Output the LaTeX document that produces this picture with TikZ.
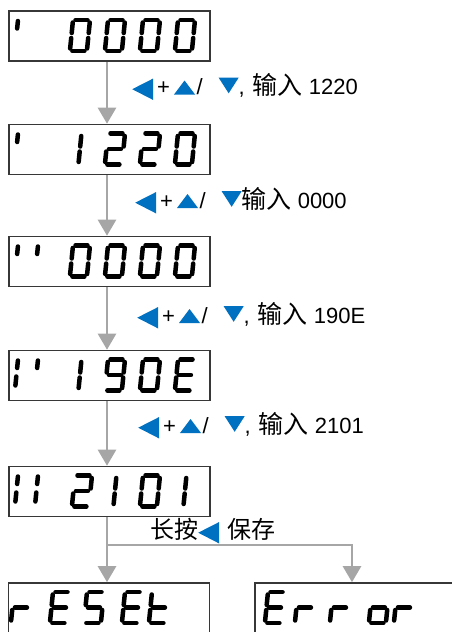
\documentclass[tikz,border=0pt]{standalone}
\usepackage{fontspec}
\setmainfont{Liberation Sans}
\newfontfamily\cjk{Noto Sans CJK SC}
\usetikzlibrary{arrows.meta}
\definecolor{tblue}{RGB}{0,112,192}
\definecolor{arrowgray}{RGB}{166,166,166}
\definecolor{boxc}{RGB}{55,55,55}
\newcommand\tril{\tikz[baseline=0pt,x=1pt,y=1pt]\fill[tblue](0,5.3)--(21,16)--(21,-5.5)--cycle;}
\newcommand\triu{\tikz[baseline=0pt,x=1pt,y=1pt]\fill[tblue](0,0)--(21,0)--(10.5,14)--cycle;}
\newcommand\trid{\tikz[baseline=0pt,x=1pt,y=1pt]\fill[tblue](0,16.8)--(20,16.8)--(10,1.2)--cycle;}
\newcommand\cj[1]{{\cjk\fontsize{25}{25}\selectfont #1}}
\newcommand\cjs[1]{{\cjk\fontsize{24}{24}\selectfont #1}}
\newcommand\segdraw[1]{%
\if#1a\draw[seg](2.5,0)--(14.5,0);\fi
\if#1b\draw[seg](17,2.5)--(17,13);\fi
\if#1c\draw[seg](17,18)--(17,28.5);\fi
\if#1d\draw[seg](2.5,31)--(14.5,31);\fi
\if#1e\draw[seg](0,18)--(0,28.5);\fi
\if#1f\draw[seg](0,2.5)--(0,13);\fi
\if#1g\draw[seg](2.5,15.5)--(14.5,15.5);\fi
\if#1p\draw[seg](8.5,2.5)--(8.5,13);\fi
\if#1q\draw[seg](8.5,18)--(8.5,28.5);\fi
\if#1u\draw[seg](0,1)--(0,8.5);\fi
\if#1l\draw[seg](0,17)--(0,26);\fi}
\newcommand\sevenseg[3]{\begin{scope}[shift={(#1,#2)},xslant=0.1]\foreach \s in {#3}{\segdraw{\s}}\end{scope}}
\begin{document}
\begin{tikzpicture}[x=1pt,y=-1pt,
 box/.style={draw=boxc,line width=1.6pt,minimum width=201pt,minimum height=50pt,inner sep=0pt},
 arr/.style={draw=arrowgray,line width=2.6pt,-{Triangle[width=18pt,length=16pt]}},
 lbl/.style={inner sep=0pt,anchor=base west,font=\fontsize{22}{22}\selectfont,text=black},
 seg/.style={line width=4.5pt,line cap=round,draw=black}]
\useasboundingbox (0,0) rectangle (452,632);
\clip (0,0) rectangle (452,632);
% boxes
\node[box] (b1) at (109.5,36) {};
\node[box] (b2) at (109.5,149.5) {};
\node[box] (b3) at (109.5,261.5) {};
\node[box] (b4) at (109.5,375.5) {};
\node[box] (b5) at (109.5,491.5) {};
\node[box,minimum height=60pt] (b6) at (109,613) {};
\node[box,minimum width=210pt,minimum height=60pt] (b7) at (360,613) {};
% connectors
\coordinate (ax) at (107,0);
\coordinate (j) at (107,545);
\coordinate (jr) at (352,545);
\draw[arr] (b1.south -| ax) -- (b2.north -| ax);
\draw[arr] (b2.south -| ax) -- (b3.north -| ax);
\draw[arr] (b3.south -| ax) -- (b4.north -| ax);
\draw[arr] (b4.south -| ax) -- (b5.north -| ax);
\draw[arr] (b5.south -| ax) -- (b6.north -| ax);
\draw[arr] (j) -- (jr) -- (b7.north -| jr);
% labels
\node[lbl] (l1) at (132,94.5) {\tril\hspace{4pt}+\hspace{4pt}\triu\hspace{1.5pt}/\hspace{16pt}\trid,\hspace{8pt}\cj{输入} 1220};
\node[lbl] (l2) at (135,208) {\tril\hspace{4pt}+\hspace{4pt}\triu\hspace{1.5pt}/\hspace{16pt}\trid\cj{输入} 0000};
\node[lbl] (l3) at (137,323) {\tril\hspace{4pt}+\hspace{4pt}\triu\hspace{1.5pt}/\hspace{16pt}\trid,\hspace{8pt}\cj{输入} 190E};
\node[lbl] (l4) at (138,433) {\tril\hspace{4pt}+\hspace{4pt}\triu\hspace{1.5pt}/\hspace{16pt}\trid,\hspace{8pt}\cj{输入} 2101};
\node[lbl] (l5) at (150,538) {\cjs{长按}\tril\hspace{8pt}\cjs{保存}};
% displays
\sevenseg{18}{20}{u}
\foreach \x in {73,108,143,178}{\sevenseg{\x}{20}{a,b,c,d,e,f}}
\sevenseg{18}{133.5}{u}
\sevenseg{73}{133.5}{p,q}
\sevenseg{108}{133.5}{a,b,g,e,d}
\sevenseg{143}{133.5}{a,b,g,e,d}
\sevenseg{178}{133.5}{a,b,c,d,e,f}
\sevenseg{18}{245.5}{u}
\sevenseg{38}{245.5}{u}
\foreach \x in {73,108,143,178}{\sevenseg{\x}{245.5}{a,b,c,d,e,f}}
\sevenseg{18}{359.5}{u,l}
\sevenseg{38}{359.5}{u}
\sevenseg{73}{359.5}{p,q}
\sevenseg{108}{359.5}{a,b,c,d,f,g}
\sevenseg{143}{359.5}{a,b,c,d,e,f}
\sevenseg{178}{359.5}{a,d,e,f,g}
\sevenseg{18}{475.5}{u,l}
\sevenseg{38}{475.5}{u,l}
\sevenseg{75}{475.5}{a,b,g,e,d}
\sevenseg{108}{475.5}{p,q}
\sevenseg{143}{475.5}{a,b,c,d,e,f}
\sevenseg{178}{475.5}{p,q}
\sevenseg{14}{592}{e,g}
\sevenseg{53}{592}{a,d,e,f,g}
\sevenseg{87}{592}{a,f,g,c,d}
\sevenseg{125}{592}{a,d,e,f,g}
\sevenseg{152}{592}{f,e,g,d}
\sevenseg{268}{592}{a,d,e,f,g}
\sevenseg{298}{592}{e,g}
\sevenseg{333}{592}{e,g}
\sevenseg{372}{592}{c,d,e,g}
\sevenseg{397}{592}{e,g}
\end{tikzpicture}
\end{document}
